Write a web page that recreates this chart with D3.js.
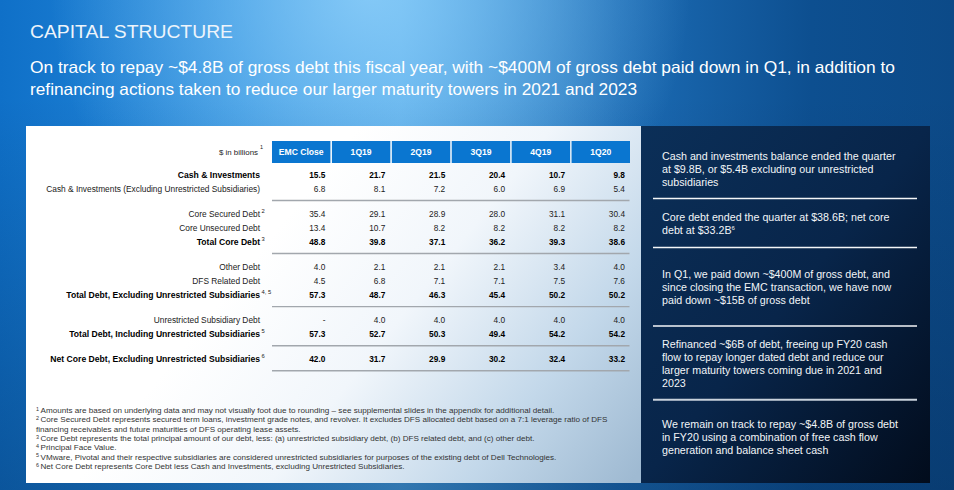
<!DOCTYPE html>
<html><head><meta charset="utf-8">
<script src="https://cdn.jsdelivr.net/npm/d3@7"></script>
<style>
body{margin:0;overflow:hidden;background:#0b4a88}
svg{display:block;font-family:"Liberation Sans",Arial,Helvetica,sans-serif}
</style>
</head><body><svg id="c" width="954" height="490"></svg>
<script>
// ---------- DATA ----------
const title = "CAPITAL STRUCTURE";
const subtitleLines = [
  "On track to repay ~$4.8B of gross debt this fiscal year, with ~$400M of gross debt paid down in Q1, in addition to",
  "refinancing actions taken to reduce our larger maturity towers in 2021 and 2023"
];
const unitLabel = "$ in billions";
const unitSup = "1";
const columns = ["EMC Close", "1Q19", "2Q19", "3Q19", "4Q19", "1Q20"];
const rowLabels = [
  "Cash & Investments",
  "Cash & Investments (Excluding Unrestricted Subsidiaries)",
  "Core Secured Debt",
  "Core Unsecured Debt",
  "Total Core Debt",
  "Other Debt",
  "DFS Related Debt",
  "Total Debt, Excluding Unrestricted Subsidiaries",
  "Unrestricted Subsidiary Debt",
  "Total Debt, Including Unrestricted Subsidiaries",
  "Net Core Debt, Excluding Unrestricted Subsidiaries"
];
const rowSups  = ["", "", "2", "", "3", "", "", "4, 5", "", "5", "6"];
const rowBold  = [true, false, false, false, true, false, false, true, false, true, true];
const rowGroup = [0, 0, 1, 1, 1, 2, 2, 2, 3, 3, 4];
const emcClose = [15.5, 6.8, 35.4, 13.4, 48.8, 4.0, 4.5, 57.3, null, 57.3, 42.0];
const q1_19    = [21.7, 8.1, 29.1, 10.7, 39.8, 2.1, 6.8, 48.7, 4.0, 52.7, 31.7];
const q2_19    = [21.5, 7.2, 28.9, 8.2, 37.1, 2.1, 7.1, 46.3, 4.0, 50.3, 29.9];
const q3_19    = [20.4, 6.0, 28.0, 8.2, 36.2, 2.1, 7.1, 45.4, 4.0, 49.4, 30.2];
const q4_19    = [10.7, 6.9, 31.1, 8.2, 39.3, 3.4, 7.5, 50.2, 4.0, 54.2, 32.4];
const q1_20    = [9.8, 5.4, 30.4, 8.2, 38.6, 4.0, 7.6, 50.2, 4.0, 54.2, 33.2];
const seriesByColumn = [emcClose, q1_19, q2_19, q3_19, q4_19, q1_20];

const footnoteSups = ["1", "2", "", "3", "4", "5", "6"];
const footnotes = [
  "Amounts are based on underlying data and may not visually foot due to rounding \u2013 see supplemental slides in the appendix for additional detail.",
  "Core Secured Debt represents secured term loans, investment grade notes, and revolver. It excludes DFS allocated debt based on a 7:1 leverage ratio of DFS",
  "financing receivables and future maturities of DFS operating lease assets.",
  "Core Debt represents the total principal amount of our debt, less: (a) unrestricted subsidiary debt, (b) DFS related debt, and (c) other debt.",
  "Principal Face Value.",
  "VMware, Pivotal and their respective subsidiaries are considered unrestricted subsidiaries for purposes of the existing debt of Dell Technologies.",
  "Net Core Debt represents Core Debt less Cash and Investments, excluding Unrestricted Subsidiaries."
];

const sidePoints = [
  ["Cash and investments balance ended the quarter", "at $9.8B, or $5.4B excluding our unrestricted", "subsidiaries"],
  ["Core debt ended the quarter at $38.6B; net core", "debt at $33.2B|6"],
  ["In Q1, we paid down ~$400M of gross debt, and", "since closing the EMC transaction, we have now", "paid down ~$15B of gross debt"],
  ["Refinanced ~$6B of debt, freeing up FY20 cash", "flow to repay longer dated debt and reduce our", "larger maturity towers coming due in 2021 and", "2023"],
  ["We remain on track to repay ~$4.8B of gross debt", "in FY20 using a combination of free cash flow", "generation and balance sheet cash"]
];

// ---------- DRAW ----------
const svg = d3.select("#c");
const defs = svg.append("defs");

// background gradients
const bg = defs.append("linearGradient").attr("id", "bg").attr("x1", 0).attr("y1", 0).attr("x2", 1).attr("y2", 0);
[[0, "#0f70c8"], [0.25, "#2a8ddd"], [0.42, "#4aa3e6"], [0.65, "#1c6cb5"], [0.85, "#0d4f90"], [1, "#0c4a88"]]
  .forEach(([o, c]) => bg.append("stop").attr("offset", o).attr("stop-color", c));
const glow = defs.append("radialGradient").attr("id", "glow").attr("gradientUnits", "userSpaceOnUse")
  .attr("cx", 370).attr("cy", -10).attr("r", 320);
glow.append("stop").attr("offset", 0).attr("stop-color", "#8fd0fa").attr("stop-opacity", 0.85);
glow.append("stop").attr("offset", 1).attr("stop-color", "#8fd0fa").attr("stop-opacity", 0);
const shade = defs.append("linearGradient").attr("id", "shade").attr("x1", 0).attr("y1", 0).attr("x2", 0).attr("y2", 1);
shade.append("stop").attr("offset", 0.2).attr("stop-color", "#03234a").attr("stop-opacity", 0);
shade.append("stop").attr("offset", 1).attr("stop-color", "#03234a").attr("stop-opacity", 0.35);

svg.append("rect").attr("width", 954).attr("height", 490).attr("fill", "url(#bg)");
svg.append("rect").attr("width", 954).attr("height", 490).attr("fill", "url(#glow)");
svg.append("rect").attr("width", 954).attr("height", 490).attr("fill", "url(#shade)");

// table panel
const tp = defs.append("linearGradient").attr("id", "tp").attr("gradientUnits", "userSpaceOnUse")
  .attr("x1", 300).attr("y1", 200).attr("x2", 640).attr("y2", 470);
[[0, "#ffffff"], [0.35, "#f1f6fb"], [0.7, "#c3d8ea"], [1, "#9fbad2"]]
  .forEach(([o, c]) => tp.append("stop").attr("offset", o).attr("stop-color", c));
svg.append("rect").attr("x", 26).attr("y", 126).attr("width", 615).attr("height", 357).attr("fill", "url(#tp)");

// side panel
const sp = defs.append("linearGradient").attr("id", "sp").attr("x1", 0).attr("y1", 0).attr("x2", 1).attr("y2", 1);
[[0, "#0b2f58"], [0.5, "#08254a"], [1, "#020c1c"]]
  .forEach(([o, c]) => sp.append("stop").attr("offset", o).attr("stop-color", c));
svg.append("rect").attr("x", 641).attr("y", 126).attr("width", 289).attr("height", 357).attr("fill", "url(#sp)");

// title & subtitle
svg.append("text").attr("x", 30).attr("y", 37.5).attr("fill", "#edf4fb")
  .attr("font-size", 18).attr("textLength", 203).attr("lengthAdjust", "spacingAndGlyphs").text(title);
const subLens = [865, 607];
svg.selectAll("text.sub").data(subtitleLines).join("text").attr("class", "sub")
  .attr("x", 30).attr("y", (d, i) => 73 + i * 21.5).attr("fill", "#ffffff")
  .attr("font-size", 16.5).attr("textLength", (d, i) => subLens[i]).attr("lengthAdjust", "spacingAndGlyphs")
  .text(d => d);

// scales
const x = d3.scaleBand().domain(columns).range([272, 630]).paddingInner(0.025);
const slot = rowLabels.map((d, i) => i + rowGroup[i] * 0.79);
const y = d3.scaleLinear().domain([0, 1]).range([175, 189]);
const headerY = 141, headerH = 22;

// header
svg.selectAll("rect.hdr").data(columns).join("rect").attr("class", "hdr")
  .attr("x", d => x(d)).attr("y", headerY).attr("width", x.bandwidth()).attr("height", headerH)
  .attr("fill", "#0a76d0");
svg.selectAll("text.hdr").data(columns).join("text").attr("class", "hdr")
  .attr("x", d => x(d) + x.bandwidth() / 2).attr("y", headerY + headerH / 2).attr("dy", "0.35em")
  .attr("text-anchor", "middle").attr("fill", "#fff").attr("font-weight", "bold").attr("font-size", 8.6)
  .text(d => d);
svg.append("text").attr("x", 258).attr("y", 152).attr("dy", "0.35em").attr("text-anchor", "end")
  .attr("font-size", 7.9).attr("fill", "#222").text(unitLabel);
svg.append("text").attr("x", 260).attr("y", 149).attr("font-size", 5.5).attr("fill", "#222").text(unitSup);

// row labels
const labelX = 260;
rowLabels.forEach((lab, i) => {
  svg.append("text").attr("x", labelX).attr("y", y(slot[i])).attr("dy", "0.35em")
    .attr("text-anchor", "end").attr("font-size", rowBold[i] ? 8.6 : 8.35).attr("fill", rowBold[i] ? "#000" : "#222")
    .attr("font-weight", rowBold[i] ? "bold" : "normal").text(lab);
  if (rowSups[i]) {
    svg.append("text").attr("x", labelX + 1.5).attr("y", y(slot[i]) - 1.5)
      .attr("font-size", 5.8).attr("fill", "#222").text(rowSups[i]);
  }
});

// values
columns.forEach((col, c) => {
  svg.selectAll(null).data(seriesByColumn[c]).join("text")
    .attr("x", x(col) + x.bandwidth() - 5).attr("y", (d, i) => y(slot[i])).attr("dy", "0.35em")
    .attr("text-anchor", "end").attr("font-size", 8.3)
    .attr("font-weight", (d, i) => rowBold[i] ? "bold" : "normal")
    .attr("fill", (d, i) => rowBold[i] ? "#000" : "#222")
    .text(d => d == null ? "-" : d3.format(".1f")(d));
});

// separators after each group
const groupEnds = rowGroup.map((g, i) => (i === rowGroup.length - 1 || rowGroup[i + 1] !== g) ? i : -1).filter(i => i >= 0);
svg.selectAll("line.sep").data(groupEnds).join("line").attr("class", "sep")
  .attr("x1", 272).attr("x2", 629.5)
  .attr("y1", i => y(slot[i]) + 11.5).attr("y2", i => y(slot[i]) + 11.5)
  .attr("stroke", "#a2a7ad").attr("stroke-width", 1.4);

// footnotes
footnotes.forEach((t, i) => {
  const yy = 413 + i * 9.3;
  const tx = svg.append("text").attr("x", 36).attr("y", yy).attr("font-size", 8.1).attr("fill", "#333");
  if (footnoteSups[i]) tx.append("tspan").attr("font-size", 5.4).attr("dy", -2.3).text(footnoteSups[i] + " ");
  tx.append("tspan").attr("dy", footnoteSups[i] ? 2.3 : 0).text(t);
});

// side panel text
const firstLineY = [156.7, 217.3, 274.3, 344.3, 424.3];
const lineH = 13;
sidePoints.forEach((lines, p) => {
  lines.forEach((ln, j) => {
    const t = svg.append("text").attr("x", 662).attr("y", firstLineY[p] + j * lineH).attr("dy", "0.35em")
      .attr("font-size", 10.7).attr("fill", "#f2f5f8");
    const parts = ln.split("|");
    t.append("tspan").text(parts[0]);
    if (parts[1]) t.append("tspan").attr("font-size", 6).attr("dy", -4).text(parts[1]);
  });
});
const sideSeps = [198.5, 247.5, 326, 399.8];
svg.selectAll("line.sside").data(sideSeps).join("line").attr("class", "sside")
  .attr("x1", 653).attr("x2", 917).attr("y1", d => d).attr("y2", d => d)
  .attr("stroke", (d, i) => i === 3 ? "#c9d2dc" : "#f4f6f8").attr("stroke-width", (d, i) => i === 3 ? 2 : 1.5);
</script></body></html>
